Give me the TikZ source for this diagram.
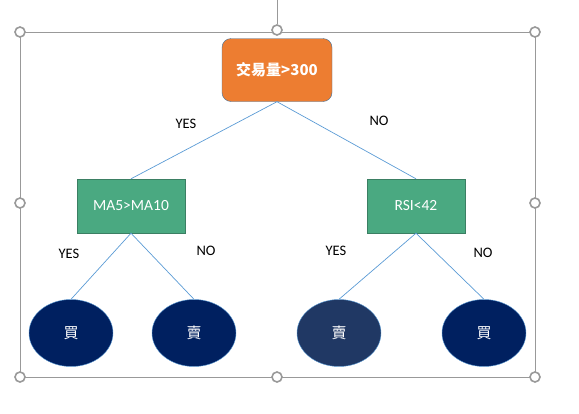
\documentclass[tikz,border=0pt]{standalone}
\usepackage{fontspec}
\setmainfont{Carlito}
\newfontfamily\cjk{Noto Sans CJK TC}
\usetikzlibrary{shapes.geometric}

\definecolor{rootorange}{HTML}{ED7D31}
\definecolor{rootedge}{HTML}{41719C}
\definecolor{testgreen}{HTML}{4AA981}
\definecolor{testedge}{HTML}{3B7F63}
\definecolor{leafnavy}{HTML}{002060}
\definecolor{leafslate}{HTML}{203864}
\definecolor{linkblue}{HTML}{5B9BD5}
\definecolor{framegray}{HTML}{999999}

\tikzset{
  rootbox/.style={draw=rootedge, fill=rootorange, rounded corners=9pt, minimum width=110pt, minimum height=63pt, text=white, font=\cjk\bfseries\fontsize{15}{17}\selectfont},
  testbox/.style={draw=testedge, fill=testgreen, minimum width=108pt, minimum height=54pt, text=white, font=\fontsize{15.5}{17}\selectfont},
  leaf/.style={ellipse, draw=linkblue, fill=leafnavy, minimum width=84pt, minimum height=67pt, inner sep=0pt, text=white, font=\cjk\fontsize{15}{17}\selectfont},
  link/.style={draw=linkblue, line width=0.7pt},
  answer/.style={font=\fontsize{14.5}{16}\selectfont},
  handle/.style={circle, draw=framegray, fill=white, line width=1.6pt, minimum size=10pt, inner sep=0pt}
}

\begin{document}
\begin{tikzpicture}[x=1pt, y=-1pt]
    \useasboundingbox (0,0) rectangle (579,413);

    % selection frame
    \draw[framegray, line width=0.9pt] (20,32) rectangle (535,377);
    \coordinate (rot) at (277,0);
    \node[handle] (h1) at (20,32) {};
    \node[handle] (h2) at (277,30) {};
    \node[handle] (h3) at (535,32) {};
    \node[handle] (h4) at (20,203) {};
    \node[handle] (h5) at (535,203) {};
    \node[handle] (h6) at (20,377) {};
    \node[handle] (h7) at (277,377) {};
    \node[handle] (h8) at (535,377) {};
    \draw[framegray, line width=0.9pt] (rot) -- (h2);

    % 根
    \node[rootbox] (vol) at (277,70) {交易量>300};

    % 第二层
    \node[testbox] (ma) at (131,206) {MA5>MA10};
    \node[testbox, minimum width=98pt] (rsi) at (416,206) {RSI<42};

    % 叶
    \node[leaf] (buyA) at (71,333) {買};
    \node[leaf] (sellA) at (194,333) {賣};
    \node[leaf, fill=leafslate] (sellB) at (339,333) {賣};
    \node[leaf] (buyB) at (484,333) {買};

    % 连线
    \draw[link] (vol.south) -- (ma.north);
    \draw[link] (vol.south) -- (rsi.north);
    \draw[link] (ma.south) -- (buyA.north);
    \draw[link] (ma.south) -- (sellA.north);
    \draw[link] (rsi.south) -- (sellB.north);
    \draw[link] (rsi.south) -- (buyB.north);

    % 标注
    \node[answer] (y1) at (186,124) {YES};
    \node[answer] (n1) at (379,121) {NO};
    \node[answer] (y2) at (69,254) {YES};
    \node[answer] (n2) at (206,251) {NO};
    \node[answer] (y3) at (336,251) {YES};
    \node[answer] (n3) at (483,253) {NO};
\end{tikzpicture}
\end{document}
